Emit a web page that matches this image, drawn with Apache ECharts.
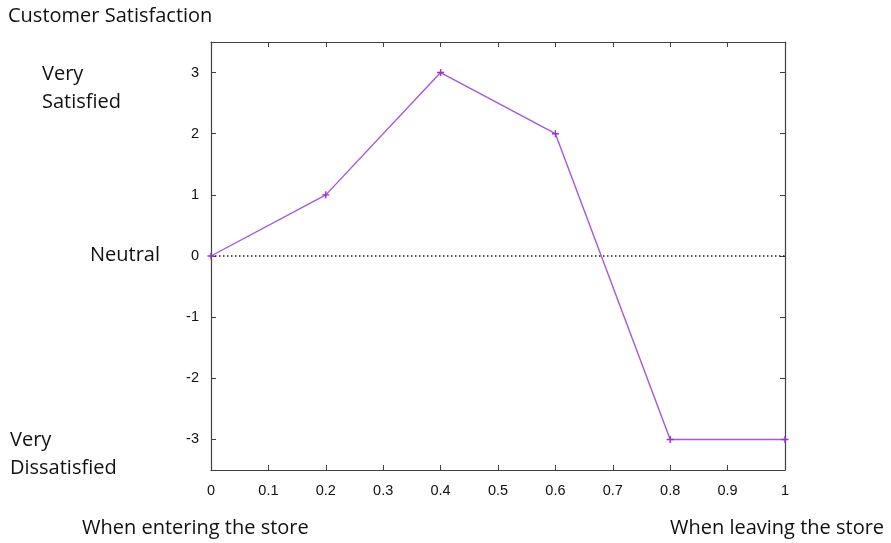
<!DOCTYPE html>
<html><head><meta charset="utf-8">
<script src="https://cdn.jsdelivr.net/npm/echarts@6/dist/echarts.min.js"></script>
<style>html,body{margin:0;padding:0;background:#fff}#c{width:891px;height:543px}</style>
</head><body><div id="c"></div>
<script>
const xValues = [0, 0.2, 0.4, 0.6, 0.8, 1];
const satisfaction = [0, 1, 3, 2, -3, -3];
const neutralLine = [[0, 0], [1, 0]];
const yTicks = [-3, -2, -1, 0, 1, 2, 3];

const chart = echarts.init(document.getElementById('c'), null, {renderer: 'canvas'});
const axisCol = '#404040';
const tickFont = {fontFamily: 'Liberation Sans, Arial, sans-serif', fontSize: 14.5, color: '#111'};
const txtFont = '"Open Sans", Lato, sans-serif';
const lineData = xValues.map((x, i) => [x, satisfaction[i]]);
chart.setOption({
  animation: false,
  backgroundColor: '#fff',
  grid: {left: 211, right: 106, top: 42, bottom: 73},
  xAxis: [
    {type: 'value', min: 0, max: 1, interval: 0.1, position: 'bottom',
     axisLine: {onZero: false, lineStyle: {color: axisCol, width: 1.2}},
     axisTick: {inside: true, length: 5, lineStyle: {color: axisCol}},
     axisLabel: Object.assign({margin: 13, formatter: v => String(Math.round(v * 10) / 10)}, tickFont),
     splitLine: {show: false}},
    {type: 'value', min: 0, max: 1, interval: 0.1, position: 'top',
     axisLine: {show: true, onZero: false, lineStyle: {color: axisCol, width: 1.2}},
     axisTick: {show: true, inside: true, length: 5, lineStyle: {color: axisCol}},
     axisLabel: {show: false}, splitLine: {show: false}}
  ],
  yAxis: [
    {type: 'value', min: -3.5, max: 3.5, position: 'left',
     axisLine: {show: true, onZero: false, lineStyle: {color: axisCol, width: 1.2}},
     axisTick: {show: true, inside: true, length: 5, lineStyle: {color: axisCol},
       customValues: yTicks},
     axisLabel: Object.assign({margin: 12, customValues: yTicks}, tickFont),
     splitLine: {show: false}},
    {type: 'value', min: -3.5, max: 3.5, position: 'right',
     axisLine: {show: true, onZero: false, lineStyle: {color: axisCol, width: 1.2}},
     axisTick: {show: true, inside: true, length: 5, lineStyle: {color: axisCol}, customValues: yTicks},
     axisLabel: {show: false}, splitLine: {show: false}}
  ],
  series: [
    {type: 'line', data: neutralLine, symbol: 'none', silent: true,
     lineStyle: {color: '#222', width: 1.3, type: [1.5, 2.5]}},
    {type: 'line', data: lineData, symbol: 'path://M2,0H3V2H5V3H3V5H2V3H0V2H2Z', symbolSize: 7,
     showSymbol: true,
     itemStyle: {color: '#9a30d0'},
     lineStyle: {color: '#a855e0', width: 1.4}}
  ],
  graphic: [
    {type: 'text', left: 8, top: 6, style: {text: 'Customer Satisfaction', font: '20px ' + txtFont, fill: '#111'}},
    {type: 'text', left: 42, top: 60, style: {text: 'Very\nSatisfied', font: '20px ' + txtFont, fill: '#111', lineHeight: 28}},
    {type: 'text', left: 90, top: 245, style: {text: 'Neutral', font: '20px ' + txtFont, fill: '#111'}},
    {type: 'text', left: 10, top: 426, style: {text: 'Very\nDissatisfied', font: '20px ' + txtFont, fill: '#111', lineHeight: 28}},
    {type: 'text', left: 82, top: 518, style: {text: 'When entering the store', font: '20px ' + txtFont, fill: '#111'}},
    {type: 'text', left: 670, top: 518, style: {text: 'When leaving the store', font: '20px ' + txtFont, fill: '#111'}}
  ]
});
</script></body></html>
